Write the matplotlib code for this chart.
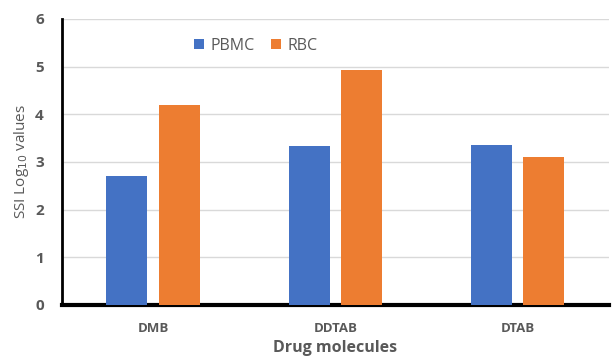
import numpy as np
import matplotlib.pyplot as plt

# SSI values (log10) per drug molecule
molecules = ['DMB', 'DDTAB', 'DTAB']
pbmc = [2.70, 3.33, 3.35]
rbc = [4.20, 4.92, 3.10]

blue = '#4472C4'
orange = '#ED7D31'
grey = '#595959'

plt.rcParams['font.family'] = ['Open Sans', 'DejaVu Sans']

fig = plt.figure(figsize=(6.12, 3.57), dpi=100)
ax = fig.add_axes([0.101, 0.146, 0.894, 0.801])

x = np.arange(len(molecules))
w = 0.225
off = 0.143
ax.bar(x - off, pbmc, w, color=blue, label='PBMC', zorder=3)
ax.bar(x + off, rbc, w, color=orange, label='RBC', zorder=3)

ax.set_xlim(-0.5, 2.5)
ax.set_ylim(0, 6)
ax.set_yticks(range(7))
ax.yaxis.grid(True, color='#D9D9D9', lw=1)
ax.set_axisbelow(True)

for s in ['top', 'right']:
    ax.spines[s].set_visible(False)
ax.spines['left'].set_linewidth(2)
ax.spines['bottom'].set_linewidth(3)
ax.spines['left'].set_color('black')
ax.spines['bottom'].set_color('black')

ax.tick_params(length=0)
ax.tick_params(axis='y', pad=13)
ax.tick_params(axis='x', pad=12)
ax.set_xticks(x)
ax.set_xticklabels(molecules, fontsize=9.5, fontweight='bold', color=grey)
for t in ax.get_yticklabels():
    t.set_fontsize(11)
    t.set_fontweight('bold')
    t.set_color(grey)

ax.set_ylabel('SSI Log$_{10}$ values', fontsize=11, color=grey, labelpad=3)
ax.set_xlabel('Drug molecules', fontsize=11.5, fontweight='bold', color=grey,
              labelpad=4)

ax.legend(loc='upper left', bbox_to_anchor=(0.215, 0.985), ncol=2, frameon=False,
          fontsize=11.5, labelcolor=grey, handlelength=0.65, handleheight=0.65,
          handletextpad=0.4, columnspacing=1.0)

fig.savefig('out.png', dpi=100)
